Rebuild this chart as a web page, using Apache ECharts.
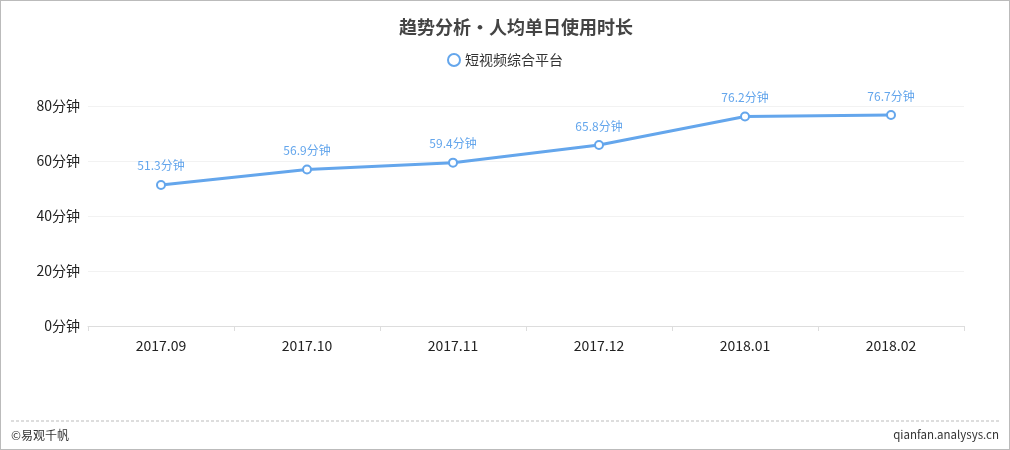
<!DOCTYPE html>
<html><head><meta charset="utf-8">
<script src="https://cdn.jsdelivr.net/npm/echarts@6/dist/echarts.min.js"></script>
<style>
html,body{margin:0;padding:0;background:#fff;}
#c{width:1010px;height:450px;box-sizing:border-box;border:1px solid #bbb;}
</style></head>
<body><div id="c"></div>
<script>
const categories = ['2017.09','2017.10','2017.11','2017.12','2018.01','2018.02'];
const seriesName = '短视频综合平台';
const values = [51.3, 56.9, 59.4, 65.8, 76.2, 76.7];
const titleText = '趋势分析•人均单日使用时长';
const unit = '分钟';
const footerLeft = '©易观千帆';
const footerRight = 'qianfan.analysys.cn';

const font = '"Microsoft YaHei","Noto Sans CJK SC",sans-serif';
const color = '#64a6ec';
const chart = echarts.init(document.getElementById('c'), null, {renderer:'canvas'});
chart.setOption({
  animation:false,
  textStyle:{fontFamily:font},
  title:{text:titleText,left:393,top:12,textStyle:{fontSize:18,fontWeight:'bold',color:'#444',fontFamily:font}},
  legend:{data:[{name:seriesName,icon:'emptyCircle'}],top:47,left:'center',itemWidth:12,itemHeight:12,itemGap:5,
    textStyle:{fontSize:14,color:'#333',fontFamily:font}},
  grid:{left:87,right:45,top:105,bottom:123,containLabel:false},
  xAxis:{type:'category',data:categories,boundaryGap:true,
    axisLine:{lineStyle:{color:'#ddd'}},
    axisTick:{show:true,length:5,lineStyle:{color:'#ddd'}},
    axisLabel:{fontSize:14,color:'#222',margin:13,fontFamily:font}},
  yAxis:{type:'value',min:0,max:80,interval:20,
    axisLine:{show:false},axisTick:{show:false},
    axisLabel:{fontSize:14,color:'#222',margin:8,formatter:v=>v+unit,fontFamily:font},
    splitLine:{lineStyle:{color:'#f2f2f2'}}},
  series:[{name:seriesName,type:'line',data:values,
    symbol:'emptyCircle',symbolSize:8,
    lineStyle:{width:3,color:color},
    itemStyle:{color:color,borderWidth:2,borderColor:color},
    label:{show:true,position:'top',distance:8,color:color,fontSize:12,formatter:p=>p.value+unit,fontFamily:font}}],
  graphic:[
    {type:'line',shape:{x1:10,y1:420,x2:998,y2:420},style:{stroke:'#bbb',lineWidth:1,lineDash:[3,2]}},
    {type:'text',left:10,top:428,style:{text:footerLeft,fontSize:12,fill:'#333',fontFamily:font}},
    {type:'text',right:10,top:428,style:{text:footerRight,fontSize:11.5,fill:'#333',fontFamily:font}}
  ]
});
</script></body></html>
